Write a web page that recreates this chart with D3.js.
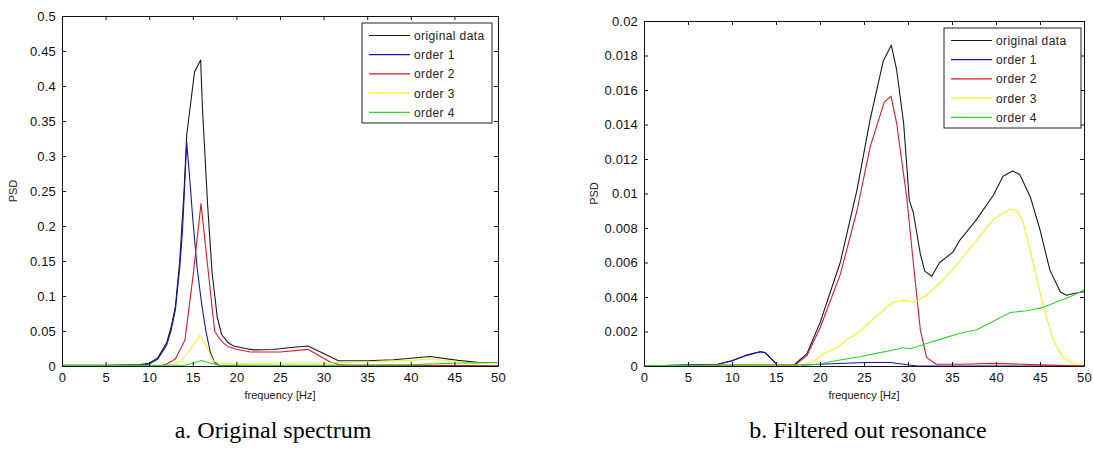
<!DOCTYPE html>
<html>
<head>
<meta charset="utf-8">
<script src="https://cdn.jsdelivr.net/npm/d3@7"></script>
<style>
    body { margin: 0; background: #fff; }
    svg text { font-family: "Liberation Sans", Arial, sans-serif; }
    .tick text { font-size: 13px; letter-spacing: 0.2px; fill: #111; }
    .caption { font-family: "Liberation Serif", "Times New Roman", serif !important; font-size: 24px; }
</style>
</head>
<body>
<div id="chart"></div>
<script>
    // legend labels and line colours
    var seriesNames = ["original data", "order 1", "order 2", "order 3", "order 4"];
    var seriesColours = ["#1a1a1a", "#1414b4", "#d81a28", "#f2f21e", "#2fd22f"];

    var xTicks = [0, 5, 10, 15, 20, 25, 30, 35, 40, 45, 50];
    var yTicksA = [0, 0.05, 0.1, 0.15, 0.2, 0.25, 0.3, 0.35, 0.4, 0.45, 0.5];
    var yTicksB = [0, 0.002, 0.004, 0.006, 0.008, 0.01, 0.012, 0.014, 0.016, 0.018, 0.02];

    // panel a: original spectrum, [frequency, PSD]
    var origA = [[0, 0.001], [5, 0.001], [9, 0.002], [10, 0.004], [11, 0.012], [12, 0.033], [12.5, 0.055], [13, 0.085], [13.5, 0.15], [14, 0.25], [14.3, 0.33], [14.8, 0.38], [15.2, 0.42], [15.9, 0.437], [16.1, 0.37], [16.7, 0.23], [17.2, 0.135], [17.8, 0.07], [18.3, 0.045], [19, 0.034], [19.6, 0.029], [21, 0.025], [22, 0.023], [24.2, 0.0235], [26, 0.026], [28.2, 0.0286], [30, 0.018], [31.7, 0.0076], [35, 0.0076], [38, 0.009], [40, 0.011], [42.2, 0.0135], [45.4, 0.008], [47.9, 0.005], [50, 0.005]];
    var ord1A = [[0, 0], [9, 0.0005], [10, 0.003], [11, 0.01], [12, 0.03], [12.5, 0.05], [13, 0.08], [13.5, 0.14], [13.8, 0.19], [14, 0.24], [14.3, 0.32], [14.6, 0.275], [15, 0.21], [15.5, 0.14], [16, 0.09], [16.5, 0.05], [17, 0.02], [17.5, 0.005], [18, 0.001], [20, 0], [50, 0]];
    var ord2A = [[0, 0], [10, 0], [11.5, 0.001], [12, 0.003], [13, 0.01], [14.1, 0.037], [15.06, 0.132], [15.94, 0.232], [16.8, 0.132], [17.5, 0.05], [18, 0.04], [18.5, 0.033], [19, 0.028], [20, 0.024], [21.6, 0.02], [25, 0.02], [28.2, 0.0238], [30.7, 0.006], [31.7, 0.002], [33, 0.001], [40, 0.001], [47, 0.0005], [50, 0]];
    var ord3A = [[0, 0], [12, 0], [13.5, 0.005], [14.5, 0.02], [15.8, 0.044], [16.5, 0.03], [17.3, 0.008], [18, 0.004], [20, 0.003], [25, 0.004], [30, 0.004], [32, 0.005], [35, 0.006], [40, 0.008], [42, 0.01], [45, 0.007], [47, 0.004], [50, 0.004]];
    var ord4A = [[0, 0.001], [14, 0.001], [15, 0.004], [16, 0.008], [17, 0.004], [18, 0.001], [30, 0.001], [35, 0.0015], [40, 0.002], [45, 0.004], [50, 0.005]];

    // panel b: filtered out resonance
    var origB = [[0, 0], [8.4, 0.0001], [10, 0.0003], [11.5, 0.0006], [13.2, 0.00083], [13.75, 0.00078], [15.1, 0.0001], [16.9, 0], [18.5, 0.0007], [20, 0.0025], [22.3, 0.006], [24.2, 0.0102], [25.7, 0.0143], [27.2, 0.0177], [28.1, 0.0186], [28.7, 0.0172], [29.5, 0.0141], [30.15, 0.0096], [30.6, 0.0089], [31.4, 0.0065], [31.9, 0.0055], [32.7, 0.0052], [33.6, 0.006], [35.1, 0.0066], [35.9, 0.0073], [37.8, 0.0085], [39.7, 0.0099], [40.8, 0.011], [41.9, 0.0113], [42.7, 0.0111], [43.9, 0.0098], [45, 0.0079], [46.1, 0.0056], [47.3, 0.0043], [48, 0.0041], [48.8, 0.0042], [50, 0.0043]];
    var ord1B = [[0, 0], [8.4, 0.0001], [10, 0.0003], [11.5, 0.0006], [13.2, 0.00083], [13.75, 0.00078], [15.1, 0.0001], [16, 0], [20, 0.0001], [25, 0.0002], [28, 0.0002], [31, 0], [50, 0]];
    var ord2B = [[0, 0], [11, 0.00005], [15, 0.00005], [17, 0], [18.5, 0.0006], [20, 0.0022], [22.3, 0.0053], [24.2, 0.009], [25.7, 0.0127], [27.3, 0.0153], [28.07, 0.01565], [28.7, 0.0141], [29.85, 0.0098], [30.6, 0.006], [31.4, 0.0021], [32.1, 0.0005], [33.2, 0.0001], [36, 0.0001], [40, 0.00015], [43, 0.0001], [46, 0.00005], [50, 0]];
    var ord3B = [[0, 0], [17.5, 0], [19.2, 0.00025], [20.4, 0.0007], [22, 0.0011], [23, 0.0015], [24.5, 0.002], [26.4, 0.0029], [28.3, 0.0037], [29.5, 0.0038], [30.8, 0.0037], [32.1, 0.0041], [34, 0.005], [35.9, 0.0061], [37.8, 0.0073], [39.7, 0.0085], [41.6, 0.0091], [42.4, 0.009], [43.1, 0.0083], [44.2, 0.006], [45.4, 0.0034], [46.5, 0.0015], [47.6, 0.0005], [48.8, 0.0001], [50, 0.0001]];
    var ord4B = [[0, 0.00002], [20, 0.0001], [21.1, 0.00025], [24.5, 0.00054], [26.4, 0.00073], [28.3, 0.00093], [29.5, 0.00106], [30.3, 0.001], [32.1, 0.0013], [34, 0.0016], [35.9, 0.0019], [37.8, 0.0021], [39.7, 0.0026], [41.6, 0.0031], [43.5, 0.0032], [45.4, 0.0034], [47.3, 0.0038], [48.8, 0.0041], [50, 0.0044]];

    var svg = d3.select("#chart")
        .append("svg")
        .attr("width", 1093)
        .attr("height", 450);

    var fmt = function (d) { return String(+d.toFixed(4)); };

    var drawPanel = function (p) {
        var x = d3.scaleLinear().domain([0, 50]).range([p.left, p.right]);
        var y = d3.scaleLinear().domain([0, p.ymax]).range([p.bottom, p.top]);

        var g = svg.append("g");

        // curves, original first so the orders sit on top
        var line = d3.line()
            .x(function (d) { return x(d[0]); })
            .y(function (d) { return y(d[1]); });

        p.series.forEach(function (s, i) {
            g.append("path")
                .attr("d", line(s))
                .attr("fill", "none")
                .attr("stroke", seriesColours[i])
                .attr("stroke-width", 1.1)
                .attr("stroke-linejoin", "round");
        });

        // matlab style box, ticks pointing in
        g.append("g")
            .attr("transform", "translate(0," + p.bottom + ")")
            .call(d3.axisBottom(x).tickValues(xTicks).tickFormat(fmt).tickSizeInner(-4).tickSizeOuter(0).tickPadding(7));
        g.append("g")
            .attr("transform", "translate(0," + p.top + ")")
            .call(d3.axisTop(x).tickValues(xTicks).tickFormat("").tickSizeInner(-4).tickSizeOuter(0));
        g.append("g")
            .attr("transform", "translate(" + p.left + ",0)")
            .call(d3.axisLeft(y).tickValues(p.yTicks).tickFormat(fmt).tickSizeInner(-4).tickSizeOuter(0).tickPadding(6));
        g.append("g")
            .attr("transform", "translate(" + p.right + ",0)")
            .call(d3.axisRight(y).tickValues(p.yTicks).tickFormat("").tickSizeInner(-4).tickSizeOuter(0));

        g.selectAll(".domain").attr("stroke", "#111");
        g.selectAll(".tick line").attr("stroke", "#111");

        // axis titles
        g.append("text")
            .attr("x", (p.left + p.right) / 2)
            .attr("y", 399)
            .attr("text-anchor", "middle")
            .style("font-size", "11px")
            .style("fill", "#222")
            .text("frequency [Hz]");

        g.append("text")
            .attr("transform", "translate(" + p.ylabX + "," + ((p.top + p.bottom) / 2) + ") rotate(-90)")
            .attr("text-anchor", "middle")
            .style("font-size", "11px")
            .style("fill", "#222")
            .text("PSD");

        // legend
        var leg = g.append("g").attr("transform", "translate(" + p.legX + "," + p.legY + ")");
        leg.append("rect")
            .attr("width", p.legW)
            .attr("height", 100)
            .attr("fill", "#fff")
            .attr("stroke", "#222");

        seriesNames.forEach(function (name, i) {
            var yy = 12.5 + i * 19.2;
            leg.append("line")
                .attr("x1", 7).attr("x2", 48)
                .attr("y1", yy).attr("y2", yy)
                .attr("stroke", seriesColours[i])
                .attr("stroke-width", 1.2);
            leg.append("text")
                .attr("x", 52)
                .attr("y", yy + 4.5)
                .style("font-size", "12px")
                .style("letter-spacing", "0.4px")
                .style("fill", "#222")
                .text(name);
        });

        // caption under the panel
        svg.append("text")
            .attr("class", "caption")
            .attr("x", p.capX)
            .attr("y", 438)
            .attr("text-anchor", "middle")
            .style("fill", "#000")
            .text(p.caption);
    };

    drawPanel({
        left: 62, right: 498, top: 16, bottom: 366,
        ymax: 0.5, yTicks: yTicksA,
        series: [origA, ord1A, ord2A, ord3A, ord4A],
        ylabX: 17, legX: 362, legY: 23, legW: 130,
        capX: 273, caption: "a. Original spectrum"
    });

    drawPanel({
        left: 644, right: 1084, top: 21, bottom: 366,
        ymax: 0.02, yTicks: yTicksB,
        series: [origB, ord1B, ord2B, ord3B, ord4B],
        ylabX: 598, legX: 944, legY: 28, legW: 137,
        capX: 868, caption: "b. Filtered out resonance"
    });
</script>
</body>
</html>
